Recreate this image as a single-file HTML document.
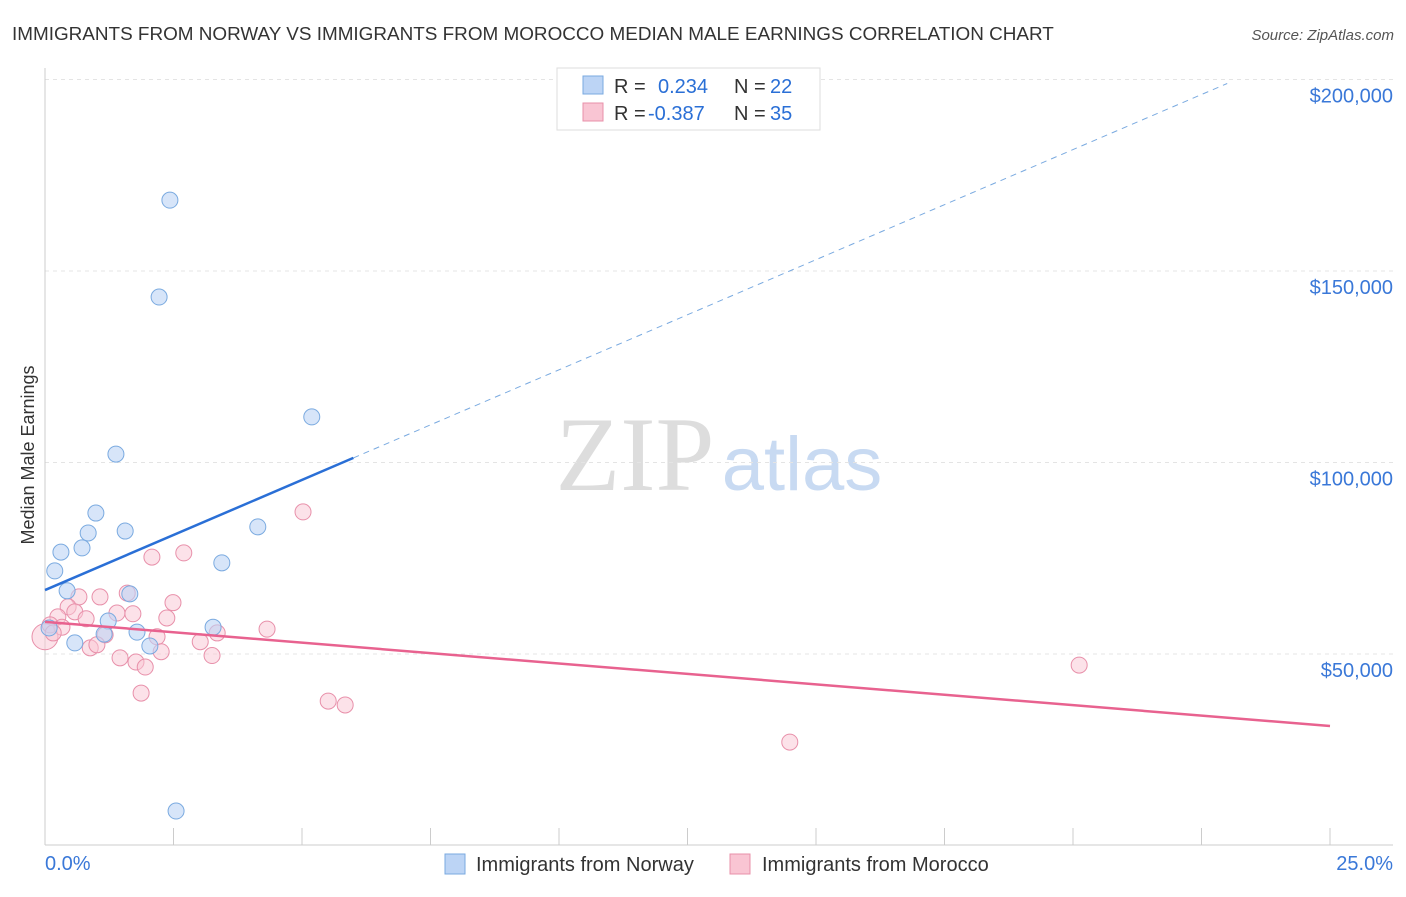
<!DOCTYPE html>
<html><head><meta charset="utf-8"><style>
body{margin:0;background:#fff;font-family:"Liberation Sans",sans-serif;}
</style></head><body>
<svg id="c" width="1406" height="892" xmlns="http://www.w3.org/2000/svg" style="font-family:'Liberation Sans',sans-serif">
<text x="12" y="40" font-size="18.9" fill="#333">IMMIGRANTS FROM NORWAY VS IMMIGRANTS FROM MOROCCO MEDIAN MALE EARNINGS CORRELATION CHART</text>
<text x="1394" y="40" font-size="15" fill="#555" text-anchor="end" font-style="italic">Source: ZipAtlas.com</text>
<text x="34" y="455" font-size="18" fill="#333" text-anchor="middle" transform="rotate(-90 34 455)">Median Male Earnings</text>
<g><text x="635" y="490" font-size="106" fill="#ddd" text-anchor="middle" font-family="Liberation Serif,serif">ZIP</text><text x="802" y="490" font-size="76" fill="#c8daf2" text-anchor="middle">atlas</text></g>
<g id="grid"></g><g id="axes"></g><g id="marks"></g>
<g>
<rect x="557" y="68" width="263" height="62" fill="#fff" stroke="#ddd"/>
<rect x="583" y="76" width="20" height="18" fill="#bcd4f5" stroke="#7aaae0"/>
<text x="614" y="93" font-size="20" fill="#333">R = </text><text x="658" y="93" font-size="20" fill="#2a6fd6">0.234</text>
<text x="734" y="93" font-size="20" fill="#333">N = </text><text x="770" y="93" font-size="20" fill="#2a6fd6">22</text>
<rect x="583" y="103" width="20" height="18" fill="#f9c5d3" stroke="#e890aa"/>
<text x="614" y="120" font-size="20" fill="#333">R = </text><text x="648" y="120" font-size="20" fill="#2a6fd6">-0.387</text>
<text x="734" y="120" font-size="20" fill="#333">N = </text><text x="770" y="120" font-size="20" fill="#2a6fd6">35</text>
</g>
<g>
<rect x="445" y="854" width="20" height="20" fill="#bcd4f5" stroke="#7aaae0"/>
<text x="476" y="871" font-size="20" fill="#333">Immigrants from Norway</text>
<rect x="730" y="854" width="20" height="20" fill="#f9c5d3" stroke="#e890aa"/>
<text x="762" y="871" font-size="20" fill="#333">Immigrants from Morocco</text>
</g>
</svg>
<script>
const yTicks=[50000,100000,150000,200000];
const yTickLabels=["$50,000","$100,000","$150,000","$200,000"];
const norwayX=[2.43,2.22,5.19,1.38,0.99,1.56,4.14,0.84,0.31,0.72,3.44,0.19,0.43,1.65,1.23,1.15,1.79,3.27,0.08,0.58,2.04,2.55];
const norwayY=[168500,143200,111900,102200,86800,82100,83200,81600,76600,77700,73800,71700,66500,65700,58600,55200,55700,57000,56800,52900,52100,9000];
const moroccoX=[0,5.02,2.08,2.70,0.66,1.07,1.60,2.49,0.45,0.58,1.40,1.71,0.25,0.80,2.37,4.32,1.17,3.35,2.18,0.10,0.88,1.01,3.02,2.26,1.46,3.25,1.77,1.95,1.87,5.51,5.84,20.12,14.49,0.33,0.16];
const moroccoY=[54500,87100,75300,76400,64900,64900,65900,63400,62300,61000,60700,60500,59700,59200,59400,56500,55000,55500,54500,57600,51600,52400,53200,50600,49000,49600,47900,46600,39800,37700,36700,47100,27000,57000,55500];
const norwayTrend=[66700,5750];
const moroccoTrend=[58400,-1088];
const X=v=>45+v*51.4, Y=v=>845.5-v*0.00383;
const NS="http://www.w3.org/2000/svg";
function mk(p,t,a){const e=document.createElementNS(NS,t);for(const k in a)e.setAttribute(k,a[k]);p.appendChild(e);return e;}
const grid=document.getElementById('grid'),axes=document.getElementById('axes'),marks=document.getElementById('marks');
yTicks.forEach((v,i)=>{
 const l=mk(grid,'line',{x1:45,x2:1393,y1:Y(v),y2:Y(v),stroke:'#e4e4e4','stroke-dasharray':'4,4'});
 
 
 const t=mk(axes,'text',{x:1393,y:Y(v)+23,'font-size':20,fill:'#3a78d8','text-anchor':'end'});t.textContent=yTickLabels[i];
 
 
});
mk(axes,'line',{x1:45,x2:45,y1:68,y2:845,stroke:'#ccc'});
mk(axes,'line',{x1:45,x2:1393,y1:845,y2:845,stroke:'#ccc'});
for(let i=0;i<=10;i++){const t=mk(axes,'line',{x1:X(i*2.5),x2:X(i*2.5),y1:828,y2:845,stroke:'#ccc'});
 
 }
let tl=mk(axes,'text',{x:45,y:870,'font-size':20,fill:'#3a78d8'});tl.textContent='0.0%';


tl=mk(axes,'text',{x:1393,y:870,'font-size':20,fill:'#3a78d8','text-anchor':'end'});tl.textContent='25.0%';


moroccoX.forEach((x,i)=>{const c=mk(marks,'circle',{cx:X(x),cy:Y(moroccoY[i]),r:i==0?13:8,fill:'#f9c5d3','fill-opacity':0.5,stroke:'#e890aa','stroke-width':1});
 
 });
norwayX.forEach((x,i)=>{const c=mk(marks,'circle',{cx:X(x),cy:Y(norwayY[i]),r:8,fill:'#bcd4f5','fill-opacity':0.6,stroke:'#7aaae0','stroke-width':1});
 
 });
const bt=v=>norwayTrend[0]+norwayTrend[1]*v, mt=v=>moroccoTrend[0]+moroccoTrend[1]*v;
let l=mk(marks,'line',{x1:X(6),y1:Y(bt(6)),x2:X(23),y2:Y(bt(23)),stroke:'#7aaae0','stroke-width':1,'stroke-dasharray':'6,5'});


l=mk(marks,'line',{x1:X(0),y1:Y(bt(0)),x2:X(6),y2:Y(bt(6)),stroke:'#2a6fd6','stroke-width':2.5});


l=mk(marks,'line',{x1:X(0),y1:Y(mt(0)),x2:X(25),y2:Y(mt(25)),stroke:'#e8628f','stroke-width':2.5});


</script>
</body></html>
